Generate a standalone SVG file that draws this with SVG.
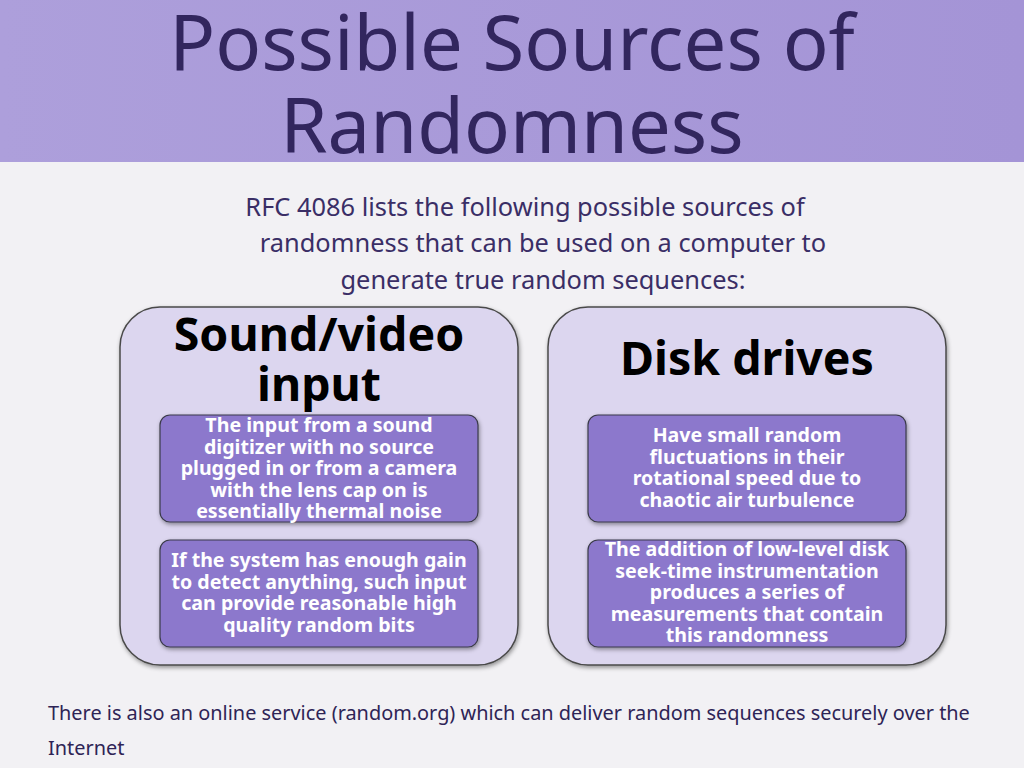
<svg xmlns="http://www.w3.org/2000/svg" width="1024" height="768" viewBox="0 0 1024 768">
<defs>
<style>
text{font-family:"Noto Sans","Open Sans","DejaVu Sans",sans-serif}
.outer{fill:#dcd6ef;stroke:#4a4a4a;stroke-width:1.5}
.inner{fill:#8c78cc;stroke:#3a3a4a;stroke-width:1.2}
.h{font-weight:bold;font-size:46.5px;fill:#000;text-anchor:middle}
.t{font-weight:bold;font-size:19.6px;fill:#fff;text-anchor:middle}
.b{font-size:25.4px;fill:#3a2e66;text-anchor:middle}
</style>
<linearGradient id="bn" x1="0" x2="1"><stop offset="0" stop-color="#ad9fdb"/><stop offset="1" stop-color="#a494d6"/></linearGradient>
<filter id="sh"><feDropShadow dx="1" dy="2" stdDeviation="2" flood-opacity="0.4"/></filter>
</defs>
<rect width="1024" height="768" fill="#f2f1f4"/>
<rect width="1024" height="162" fill="url(#bn)"/>
<text x="512" y="70" font-size="76" fill="#32265e" text-anchor="middle">Possible Sources of</text>
<text x="512" y="153" font-size="76" fill="#32265e" text-anchor="middle">Randomness</text>
<text class="b" x="525" y="216">RFC 4086 lists the following possible sources of</text>
<text class="b" x="543" y="252">randomness that can be used on a computer to</text>
<text class="b" x="543" y="289">generate true random sequences:</text>
<g id="sound">
<rect class="outer" x="120" y="307" width="398" height="358" rx="40" filter="url(#sh)"/>
<text class="h" x="319" y="351">Sound/video</text>
<text class="h" x="319" y="401">input</text>
<g id="sound1"><rect class="inner" x="160" y="415" width="318" height="107" rx="10" filter="url(#sh)"/>
<text class="t" x="319" y="432">The input from a sound</text>
<text class="t" x="319" y="454">digitizer with no source</text>
<text class="t" x="319" y="475">plugged in or from a camera</text>
<text class="t" x="319" y="497">with the lens cap on is</text>
<text class="t" x="319" y="518">essentially thermal noise</text></g>
<g id="sound2"><rect class="inner" x="160" y="540" width="318" height="107" rx="10" filter="url(#sh)"/>
<text class="t" x="319" y="567">If the system has enough gain</text>
<text class="t" x="319" y="589">to detect anything, such input</text>
<text class="t" x="319" y="610">can provide reasonable high</text>
<text class="t" x="319" y="632">quality random bits</text></g>
</g>
<g id="disk">
<rect class="outer" x="548" y="307" width="398" height="358" rx="40" filter="url(#sh)"/>
<text class="h" x="747" y="375">Disk drives</text>
<g id="disk1"><rect class="inner" x="588" y="415" width="318" height="107" rx="10" filter="url(#sh)"/>
<text class="t" x="747" y="442">Have small random</text>
<text class="t" x="747" y="464">fluctuations in their</text>
<text class="t" x="747" y="485">rotational speed due to</text>
<text class="t" x="747" y="507">chaotic air turbulence</text></g>
<g id="disk2"><rect class="inner" x="588" y="540" width="318" height="107" rx="10" filter="url(#sh)"/>
<text class="t" x="747" y="556">The addition of low-level disk</text>
<text class="t" x="747" y="578">seek-time instrumentation</text>
<text class="t" x="747" y="599">produces a series of</text>
<text class="t" x="747" y="621">measurements that contain</text>
<text class="t" x="747" y="642">this randomness</text></g>
</g>
<g id="connectors"/>
<text x="48" y="720" font-size="19.9" fill="#2e2456">There is also an online service (random.org) which can deliver random sequences securely over the</text>
<text x="48" y="755" font-size="19.9" fill="#2e2456">Internet</text>
</svg>
